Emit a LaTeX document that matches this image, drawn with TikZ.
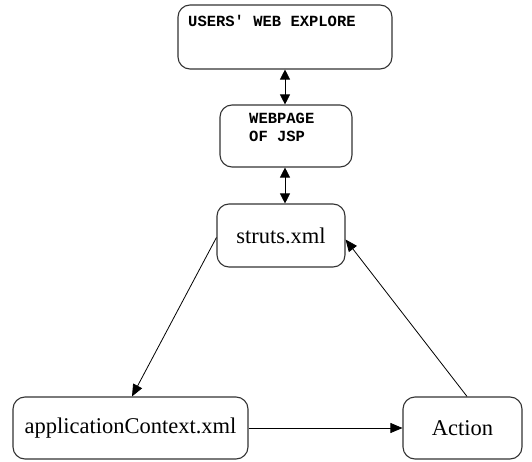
\documentclass[tikz,border=0pt]{standalone}
\usepackage{fontspec}
\setmainfont{Liberation Serif}
\newfontfamily\monob{Liberation Mono}
\usetikzlibrary{arrows.meta,calc}
\begin{document}
\begin{tikzpicture}[x=1pt,y=-1pt,
  box/.style={draw=black!80,line width=1.1pt,rounded corners=12pt,inner sep=0pt},
  serif/.style={font=\fontsize{22.5}{24}\selectfont},
  mono/.style={font=\monob\bfseries\fontsize{15.5}{18}\selectfont,inner sep=0pt,anchor=north west,align=left},
  conn/.style={line width=0.8pt,-{Triangle[length=12pt,width=10pt]}},
  dconn/.style={line width=0.8pt,{Triangle[length=10pt,width=10pt]}-{Triangle[length=10pt,width=10pt]}}]
\useasboundingbox (0,0) rectangle (532,462);
\node[box,minimum width=214pt,minimum height=64pt] (b1) at (285,37) {};
\node[box,minimum width=132pt,minimum height=62pt] (b2) at (286,136) {};
\node[box,minimum width=128pt,minimum height=63pt,serif] (st) at (281,235.5) {struts.xml};
\node[box,minimum width=235pt,minimum height=62pt,serif] (ac) at (130.5,428) {applicationContext.xml};
\node[box,minimum width=119pt,minimum height=62pt,serif] (act) at (462.5,428) {Action};
\node[mono] (t1) at (188,15) {USERS' WEB EXPLORE};
\node[mono] (t2) at (249,113) {WEBPAGE\\OF JSP};
\draw[dconn] (b1.south -| 285,0) -- (b2.north -| 285,0);
\draw[dconn] (b2.south -| 285,0) -- (st.north -| 285,0);
\draw[conn] ($(st.west)+(0,2)$) -- ($(ac.north)+(1.5,0)$);
\draw[conn] ($(act.north)+(4.5,0)$) -- ($(st.east)+(0,4)$);
\draw[conn] (ac.east) -- (act.west);
\end{tikzpicture}
\end{document}
